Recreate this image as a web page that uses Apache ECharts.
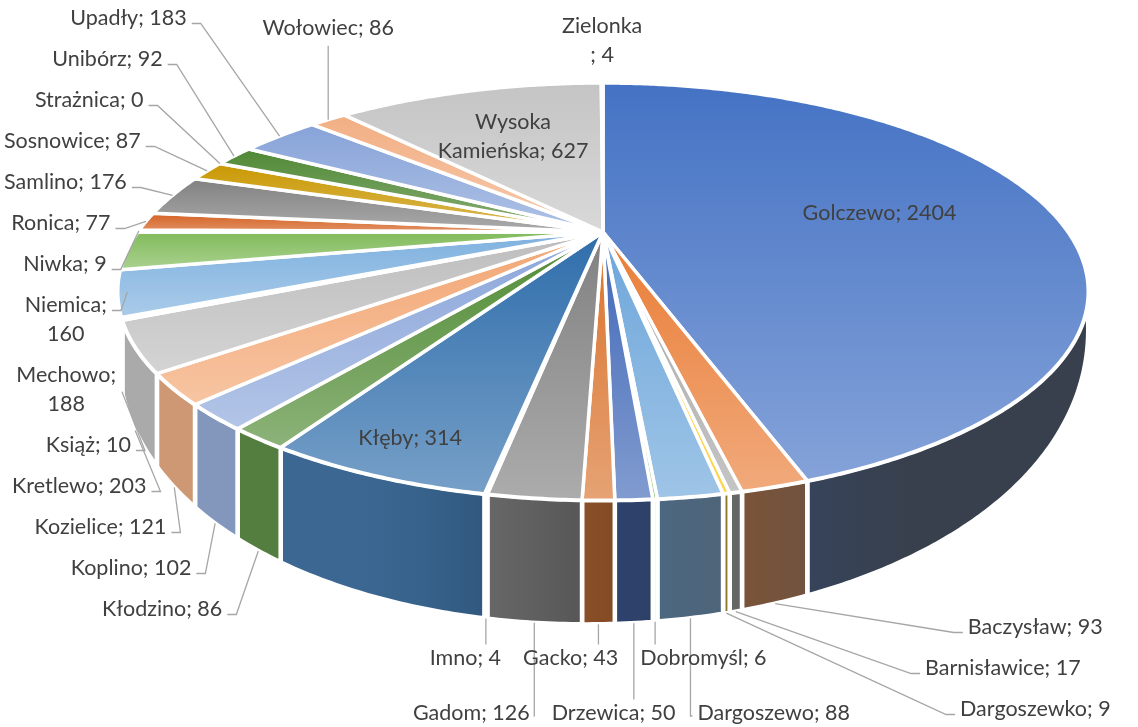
<!DOCTYPE html>
<html><head><meta charset="utf-8">
<script src="https://cdn.jsdelivr.net/npm/echarts@6.0.0/dist/echarts.min.js"></script>
<style>html,body{margin:0;padding:0;background:#fff}#chart{width:1138px;height:727px}</style>
</head><body><div id="chart"></div>
<script>
// ---------------- data ----------------
const names = ['Golczewo','Baczysław','Barnisławice','Dargoszewko','Dargoszewo','Dobromyśl','Drzewica','Gacko','Gadom','Imno','Kłęby','Kłodzino','Koplino','Kozielice','Kretlewo','Książ','Mechowo','Niemica','Niwka','Ronica','Samlino','Sosnowice','Strażnica','Unibórz','Upadły','Wołowiec','Wysoka Kamieńska','Zielonka'];
const values = [2404,93,17,9,88,6,50,43,126,4,314,86,102,121,203,10,188,160,9,77,176,87,0,92,183,86,627,4];
// ---------------- styles ----------------
const sliceColors = ['#4472C4','#E97C35','#A5A5A5','#FFC000','#6CA5DA','#70AD47','#3F66B6','#D9712A','#808080','#BF9000','#2E6DAB','#4F8A33','#8AA5DA','#F2A572','#BDBDBD','#FFD24D','#7DB0DE','#7FBA58','#3A63AE','#D35E1C','#808080','#C99700','#2E75B6','#4E8733','#86A2D8','#F2AE82','#C4C4C4','#FFD966'];
const TEXT_COLOR = '#404040', LEADER_COLOR = '#A6A6A6';
const FS = 21.5, LH = 29, FONT = FS + 'px Lato';

// ---------------- projection of the tilted disc ----------------
const CX = 603, CY = 232, AX = 465, BY = 191.6, KP = 0.2857;
const RX = 485, XL = CX - RX, XR = CX + RX;
function uv(th, r) { const t = th * Math.PI / 180; return [Math.sin(t) * r, -Math.cos(t) * r]; }
function proj(u, v) { const d = 1 - KP * v; return [CX + AX * u / d, CY + BY * v / d]; }
function wallH(u, v) { return Math.max(0, 20 + 104 * v - 12 * u); }
function topPt(th, r) { const p = uv(th, r == null ? 1 : r); return proj(p[0], p[1]); }
function botPt(th) { const p = uv(th, 1); const q = proj(p[0], p[1]); return [q[0], q[1] + wallH(p[0], p[1])]; }
function arc(a0, a1, fn) { const n = Math.max(2, Math.ceil((a1 - a0) / 0.5) + 1); const pts = []; for (let k = 0; k < n; k++) pts.push(fn(a0 + (a1 - a0) * k / (n - 1))); return pts; }

// ---------------- colours ----------------
function hex2rgb(h) { return [1, 3, 5].map(k => parseInt(h.slice(k, k + 2), 16)); }
function rgbStr(c) { return 'rgb(' + c.map(x => Math.round(Math.max(0, Math.min(255, x)))).join(',') + ')'; }
function tint(c, m) { return c.map(x => x + (255 - x) * m); }
function sideColor(P, t) {
  let f, w, m = 0;
  if (t <= 0) { const s = Math.min(1, -t / 0.45); f = 0.65 + 0.22 * s; w = 0.15; m = 0.06 * s; }
  else { const s = Math.min(1, t / 0.6); f = 0.65 - 0.07 * s; w = 0.15 + 0.55 * s; }
  const L = 0.3 * P[0] + 0.59 * P[1] + 0.11 * P[2];
  return P.map(ch => ((ch * (1 - w) + L * w) * f) * (1 - m) + 255 * m);
}

// ---------------- slices ----------------
const total = values.reduce((a, b) => a + b, 0);
const slices = []; let acc = 0;
values.forEach((val, i) => {
  const a0 = acc / total * 360; acc += val; const a1 = acc / total * 360;
  slices.push({ i, a0, a1, mid: (a0 + a1) / 2, frac: val / total });
});

// ---------------- labels ----------------
const mctx = document.createElement('canvas').getContext('2d');
mctx.font = FONT;
const tw = s => Math.max.apply(null, s.split('\n').map(l => mctx.measureText(l).width));
const RC = [603, 290], RR = 497;

const labels = slices.map(s => {
  const i = s.i, p = uv(s.mid, 1);
  const A = p[1] > 0 ? botPt(s.mid) : topPt(s.mid);
  const dx = A[0] - RC[0], dy = A[1] - RC[1], len = Math.hypot(dx, dy);
  let group;
  if (s.frac >= 0.05) group = 'inside';
  else if (s.mid >= 310 || s.mid < 30) group = 'top';
  else if (s.mid < 170) group = 'right';
  else if (s.mid < 192) group = 'bottom';
  else group = 'left';
  return { i, s, A, v: p[1], group, ringY: RC[1] + RR * dy / len, text: names[i] + '; ' + values[i], lines: 1 };
});

function relax(items, key, size, lo, hi, gap) {
  const n = items.length; if (!n) return;
  const off = [0];
  for (let k = 1; k < n; k++) off[k] = off[k - 1] + (items[k - 1][size] + items[k][size]) / 2 + gap;
  const blocks = [];
  for (let k = 0; k < n; k++) {
    blocks.push({ sum: items[k][key] - off[k], n: 1 });
    while (blocks.length > 1) {
      const b = blocks[blocks.length - 1], a = blocks[blocks.length - 2];
      if (a.sum / a.n > b.sum / b.n) { a.sum += b.sum; a.n += b.n; blocks.pop(); } else break;
    }
  }
  const base = []; let idx = 0;
  blocks.forEach(b => { for (let k = 0; k < b.n; k++) base[idx++] = b.sum / b.n; });
  const minB = lo + items[0][size] / 2, maxB = hi - items[n - 1][size] / 2 - off[n - 1];
  items.forEach((it, k) => { it.pos = Math.min(Math.max(base[k], minB), maxB) + off[k]; });
}
function boxDist(A, b) {
  const ddx = Math.max(b[0] - A[0], 0, A[0] - b[2]), ddy = Math.max(b[1] - A[1], 0, A[1] - b[3]);
  return Math.hypot(ddx, ddy);
}

// inside
labels.filter(l => l.group === 'inside').forEach(l => {
  const r = 0.62 + 0.28 * Math.max(0, l.v);
  const p = topPt(l.s.mid, r);
  if (tw(l.text) > 170 && names[l.i].indexOf(' ') > 0) { l.text = names[l.i].replace(' ', '\n') + '; ' + values[l.i]; l.lines = 2; }
  l.x = p[0]; l.y = p[1]; l.align = 'center';
});

// bottom group: staggered rows
const bottomBoxes = [];
(function () {
  const items = labels.filter(l => l.group === 'bottom').sort((a, b) => a.A[0] - b.A[0]);
  const n = items.length, ROW1 = 713, ROW2 = 658;
  items.forEach((l, k) => { l.w = tw(l.text); l.h = LH; l.row = ((n - 1 - k) % 2 === 0) ? ROW1 : ROW2; l.dx = l.A[0]; });
  [ROW1, ROW2].forEach(row => {
    const r = items.filter(l => l.row === row);
    relax(r, 'dx', 'w', 4, 1134, 22);
    r.forEach(l => { l.x = l.pos; l.y = row; l.align = 'center'; });
  });
  items.forEach(l => {
    const left = l.x - l.w / 2, right = l.x + l.w / 2, top = l.y - LH / 2 + 3;
    bottomBoxes.push([left, l.y - LH / 2, right, l.y + LH / 2]);
    if (l.A[0] >= left + 3 && l.A[0] <= right - 3) {
      if (top - l.A[1] > 10) l.leader = [l.A, [l.A[0], top - 2]];
    } else if (l.A[0] < left) {
      l.leader = [l.A, [l.A[0], l.y + 3], [left - 5, l.y + 3]];
    } else {
      l.leader = [l.A, [l.A[0], l.y + 3], [right + 5, l.y + 3]];
    }
  });
})();

// side groups
['left', 'right'].forEach(side => {
  const items = labels.filter(l => l.group === side).sort((a, b) => a.ringY - b.ringY);
  for (let pass = 0; pass < 3; pass++) {
    items.forEach(l => { l.h = l.lines * LH; l.w = tw(l.text); });
    relax(items, 'ringY', 'h', 4, 724, 12);
    let changed = false;
    items.forEach(l => {
      l.y = l.pos;
      const dy = l.y - RC[1];
      const half = Math.abs(dy) < RR ? Math.sqrt(RR * RR - dy * dy) : Math.abs(l.A[0] - RC[0]) + 20;
      if (side === 'left') {
        l.edge = RC[0] - half;
        const left = l.edge - l.w;
        if (left < 4) {
          if (4 - left < 18 || l.lines === 2) l.edge += Math.max(0, 4 - left);
          else { l.text = names[l.i] + ';\n' + values[l.i]; l.lines = 2; changed = true; }
        }
      } else {
        l.edge = RC[0] + half;
        // leave room for the leader lines passing beside the labels under the pie
        bottomBoxes.forEach(b => {
          const y0 = l.y - l.h / 2, y1 = l.y + l.h / 2;
          if (y1 > b[1] && y0 < b[3] && l.edge < b[2] + 100 && l.edge + l.w > b[0]) l.edge = b[2] + 110;
        });
        if (l.edge + l.w > 1136) l.edge = 1136 - l.w;
      }
    });
    if (!changed) break;
  }
  items.forEach(l => {
    if (l.lines === 2) { l.align = 'center'; l.x = side === 'left' ? l.edge - l.w / 2 : l.edge + l.w / 2; }
    else { l.align = side === 'left' ? 'right' : 'left'; l.x = l.edge; }
    const bx0 = side === 'left' ? l.edge - l.w : l.edge;
    if (boxDist(l.A, [bx0, l.y - l.h / 2, bx0 + l.w, l.y + l.h / 2]) > 20) {
      const ly = l.y - l.h / 2 + LH / 2 + 5;
      l.leader = side === 'left'
        ? [l.A, [l.edge + 14, ly], [l.edge + 5, ly]]
        : [l.A, [l.edge - 14, ly], [l.edge - 5, ly]];
    }
  });
});

// top group
labels.filter(l => l.group === 'top').forEach(l => {
  if (Math.abs(l.A[0] - CX) < 40) { l.text = names[l.i] + '\n; ' + values[l.i]; l.lines = 2; }
  l.h = l.lines * LH; l.w = tw(l.text);
  l.x = l.A[0]; l.y = Math.max(12 + l.h / 2, l.ringY); l.align = 'center';
  const bottom = l.y + l.h / 2;
  if (l.A[1] - bottom > 20) l.leader = [l.A, [l.A[0], bottom + 3]];
});

// ---------------- geometry per slice ----------------
const geo = slices.map(s => {
  const P = hex2rgb(sliceColors[s.i]);
  const g = { P };
  if (s.a1 - s.a0 > 1e-6) {
    g.top = [[CX, CY]].concat(arc(s.a0, s.a1, topPt));
    g.topFill = new echarts.graphic.LinearGradient(0, 0, 0, 1, [
      { offset: 0, color: rgbStr(P) }, { offset: 1, color: rgbStr(tint(P, 0.35)) }]);
    const a = Math.max(s.a0, 90), b = Math.min(s.a1, 270);
    if (b - a > 0.01) {
      g.wall = arc(a, b, topPt).concat(arc(a, b, botPt).reverse());
      const stops = [];
      for (let k = 0; k <= 16; k++) {
        const x = XL + (XR - XL) * k / 16;
        stops.push({ offset: k / 16, color: rgbStr(sideColor(P, (x - CX) / RX)) });
      }
      g.wallFill = new echarts.graphic.LinearGradient(XL, 0, XR, 0, stops, true);
    }
  }
  return g;
});

function renderItem(params, api) {
  const i = params.dataIndex, g = geo[i], l = labels[i];
  const children = [];
  if (g.wall) children.push({ type: 'polygon', shape: { points: g.wall }, style: { fill: g.wallFill, stroke: '#fff', lineWidth: 4.5, lineJoin: 'round' }, z2: 1 });
  if (g.top) children.push({ type: 'polygon', shape: { points: g.top }, style: { fill: g.topFill, stroke: '#fff', lineWidth: 3.5, lineJoin: 'round' }, z2: 2 });
  if (l.leader) children.push({ type: 'polyline', shape: { points: l.leader }, style: { stroke: LEADER_COLOR, lineWidth: 1.3, fill: null }, z2: 3 });
  children.push({ type: 'text', x: l.x, y: l.y, style: { text: l.text, font: FONT, fill: TEXT_COLOR, align: l.align, verticalAlign: 'middle', lineHeight: LH }, z2: 4 });
  return { type: 'group', children };
}

const chart = echarts.init(document.getElementById('chart'), null, { renderer: 'canvas', width: 1138, height: 727 });
chart.setOption({
  animation: false,
  backgroundColor: '#fff',
  series: [{ type: 'custom', coordinateSystem: 'none', silent: true,
    data: values.map((v, i) => ({ name: names[i], value: v })), renderItem }]
});
</script></body></html>
